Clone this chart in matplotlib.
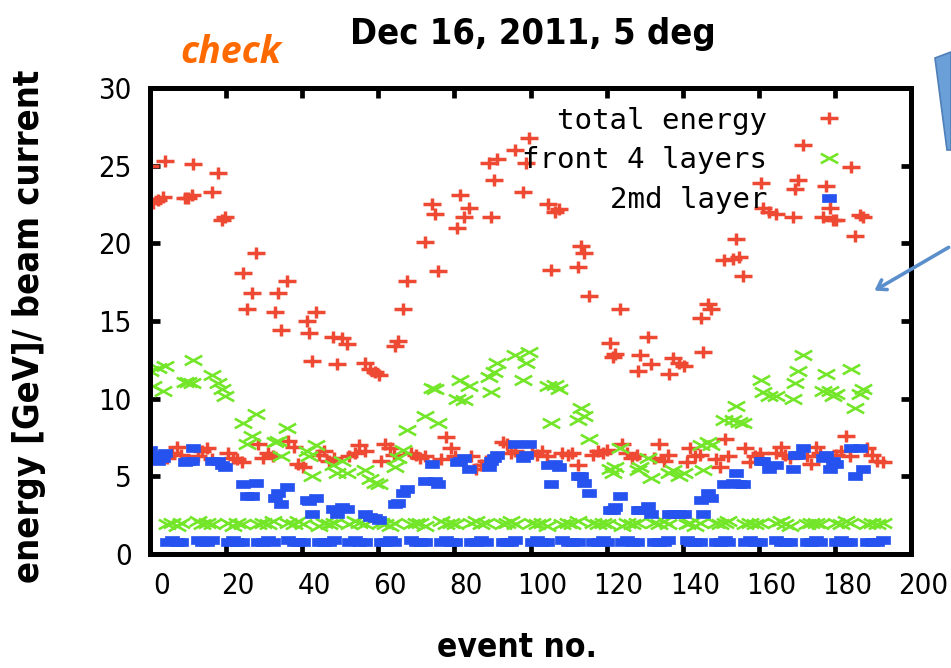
import matplotlib
matplotlib.use("Agg")
import matplotlib.pyplot as plt
from matplotlib.path import Path
from matplotlib.patches import Polygon, FancyArrowPatch
from matplotlib.transforms import ScaledTranslation
from matplotlib import font_manager

# events with beam on the target
ev_on = [0.0, 0.8, 2.1, 3.4, 3.9,
         9.2, 10.0, 11.0, 11.3,
         16.3, 17.9, 19.0, 19.7,
         24.5, 25.5, 26.8, 27.9,
         32.9, 33.7, 34.5, 36.0,
         41.3, 41.8, 42.6, 43.7,
         48.2, 49.2, 50.5, 51.8,
         56.6, 57.9, 59.2, 60.2,
         64.5, 65.3, 66.6, 67.6,
         72.4, 74.2, 75.0, 75.8,
         80.8, 81.6, 82.4, 83.9,
         89.0, 89.5, 90.5, 91.3,
         96.0, 97.9, 98.7, 99.5,
         104.5, 105.3, 106.5, 107.4,
         112.4, 113.2, 114.0, 115.3,
         121.0, 121.6, 122.2, 123.4,
         128.2, 128.9, 130.8, 131.6,
         136.3, 137.4, 139.0, 140.3,
         144.7, 145.3, 146.6, 147.4,
         150.8, 153.2, 154.0, 154.7, 155.8,
         160.5, 161.0, 162.6, 164.5,
         169.0, 169.5, 170.3, 171.6,
         176.8, 177.6, 178.6, 179.4, 180.3,
         184.2, 185.3, 186.5, 187.4]
tot_on = [25.0, 22.6, 22.8, 23.0, 25.3,
          22.9, 22.9, 23.1, 25.1,
          23.3, 24.5, 21.5, 21.7,
          18.1, 15.8, 16.8, 19.4,
          15.6, 16.8, 14.4, 17.6,
          15.0, 14.2, 12.4, 15.6,
          14.0, 12.2, 13.9, 13.5,
          12.3, 11.9, 11.7, 11.5,
          13.4, 13.7, 15.8, 17.6,
          20.1, 22.5, 21.9, 18.2,
          21.0, 23.1, 21.7, 22.3,
          25.2, 21.7, 24.1, 25.4,
          26.0, 23.3, 25.2, 26.8,
          22.5, 18.3, 22.0, 22.2,
          18.5, 19.8, 19.4, 16.6,
          13.6, 12.7, 12.9, 15.8,
          11.8, 12.8, 14.0, 12.2,
          11.6, 12.6, 12.3, 12.1,
          15.2, 13.0, 16.1, 15.8,
          18.9, 19.0, 20.3, 19.1, 17.9,
          23.9, 22.3, 22.0, 21.9,
          21.7, 23.5, 24.1, 26.3,
          21.7, 23.7, 22.3, 21.5, 21.5,
          24.9, 20.5, 21.8, 21.7]
front_on = [11.8, 10.8, 12.0, 10.5, 12.1,
            11.1, 11.1, 11.0, 12.5,
            11.5, 11.0, 10.6, 10.2,
            8.4, 7.1, 7.6, 9.0,
            7.2, 7.3, 6.3, 8.1,
            6.6, 6.3, 5.0, 7.0,
            5.7, 5.2, 6.0, 5.2,
            5.4, 4.8, 4.6, 4.5,
            5.6, 6.2, 6.7, 8.0,
            8.9, 10.7, 10.6, 8.4,
            10.0, 11.2, 9.9, 10.8,
            11.4, 10.4, 11.7, 12.3,
            12.8, 11.2, 12.3, 13.0,
            10.8, 8.4, 10.9, 10.6,
            8.6, 9.4, 8.9, 7.4,
            5.5, 5.2, 5.6, 6.8,
            5.4, 5.6, 6.2, 4.9,
            5.2, 5.4, 5.0, 5.2,
            7.0, 5.4, 7.2, 7.0,
            8.6, 8.6, 9.5, 8.5, 8.4,
            11.2, 10.4, 10.2, 10.2,
            10.0, 11.0, 11.8, 12.8,
            10.5, 11.6, 10.5, 10.2, 10.3,
            11.9, 9.4, 10.3, 10.6]
md_on = [6.7, 6.4, 6.0, 6.2, 6.5,
         5.9, 6.0, 6.0, 6.8,
         6.0, 6.0, 5.7, 5.6,
         4.5, 3.7, 3.7, 4.6,
         3.6, 3.9, 3.2, 4.3,
         3.5, 3.4, 2.6, 3.6,
         2.9, 2.6, 3.0, 2.9,
         2.6, 2.4, 2.3, 2.2,
         3.2, 3.3, 3.9, 4.2,
         4.7, 5.8, 4.7, 4.5,
         5.9, 6.0, 6.2, 5.5,
         5.6, 6.0, 6.2, 6.4,
         7.1, 6.2, 6.4, 7.1,
         5.7, 4.5, 5.8, 5.6,
         5.0, 5.0, 4.6, 3.9,
         2.8, 2.8, 3.0, 3.7,
         2.8, 2.8, 3.1, 2.6,
         2.6, 2.6, 2.6, 2.6,
         3.5, 2.6, 3.9, 3.6,
         4.5, 4.6, 5.2, 4.5, 4.5,
         6.0, 6.0, 5.5, 5.7,
         5.5, 6.4, 6.4, 6.8,
         6.2, 6.4, 5.5, 6.0, 5.8,
         6.8, 5.0, 6.8, 5.5]

# events in between (beam off the target)
ev_off = [4.6, 5.8, 7.0, 8.2,
          12.5, 13.8, 15.0, 16.2,
          20.4, 21.8, 23.0, 24.2,
          28.4, 29.8, 31.0, 32.3,
          36.4, 37.8, 39.0, 40.2,
          44.5, 45.8, 47.0, 48.4,
          52.4, 53.8, 55.0, 56.4,
          60.8, 61.8, 63.0, 64.0,
          68.6, 69.8, 71.0, 72.2,
          76.4, 77.8, 79.0, 80.2,
          84.3, 85.8, 87.0, 88.4,
          92.8, 93.8, 95.0, 96.0,
          100.4, 101.8, 103.0, 104.4,
          108.4, 109.8, 111.0, 112.4,
          116.4, 117.8, 119.0, 120.0,
          124.0, 125.4, 126.6, 128.0,
          132.4, 133.8, 135.0, 136.0,
          141.0, 142.0, 143.2, 144.6,
          148.8, 149.8, 151.0, 152.0,
          156.4, 157.8, 159.0, 160.4,
          164.4, 165.8, 167.0, 168.2,
          172.6, 173.8, 175.0, 176.2,
          180.4, 181.6, 183.0, 184.0,
          188.4, 189.8, 191.0, 192.6]
tot_off = [6.2, 6.5, 6.9, 6.4,
           6.3, 6.6, 6.8, 6.1,
           6.5, 6.2, 6.1, 5.9,
           7.1, 6.2, 6.5, 6.3,
           7.3, 6.9, 5.8, 5.6,
           6.4, 6.6, 6.0, 6.2,
           6.3, 6.5, 7.0, 6.6,
           6.0, 7.1, 6.8, 6.4,
           6.5, 6.4, 6.2, 6.3,
           6.1, 7.5, 6.8, 6.3,
           6.3, 5.5, 5.7, 6.0,
           7.2, 7.1, 6.5, 6.6,
           6.5, 6.4, 6.6, 6.3,
           6.5, 6.4, 6.5, 5.7,
           6.4, 6.6, 6.5, 6.7,
           7.1, 6.5, 6.2, 6.4,
           6.2, 7.1, 6.0, 6.4,
           5.9, 6.8, 6.3, 6.4,
           6.1, 5.6, 7.4, 6.3,
           6.8, 5.9, 6.3, 6.5,
           6.5, 6.9, 6.4, 6.2,
           6.3, 5.8, 6.9, 6.5,
           6.4, 6.6, 7.6, 6.3,
           6.8, 6.4, 6.0, 5.9]
front_off = [1.9, 2.0, 1.8, 2.0,
             2.1, 1.9, 2.0, 1.9,
             2.0, 1.8, 2.0, 1.9,
             1.9, 2.0, 1.9, 2.1,
             2.0, 1.9, 2.1, 1.9,
             1.8, 2.0, 1.9, 2.0,
             1.9, 2.1, 2.0, 1.9,
             2.0, 1.9, 1.8, 2.0,
             1.9, 2.0, 2.0, 1.8,
             2.1, 1.9, 2.0, 1.9,
             2.0, 2.1, 1.9, 2.0,
             1.9, 2.0, 2.1, 1.9,
             2.0, 1.9, 2.0, 1.8,
             1.9, 2.0, 1.9, 2.1,
             2.0, 1.9, 2.0, 1.9,
             1.8, 2.0, 1.9, 2.0,
             2.0, 1.9, 2.1, 1.9,
             1.9, 2.0, 1.8, 2.0,
             2.0, 1.9, 2.0, 2.1,
             1.9, 2.0, 1.9, 2.0,
             2.0, 2.1, 1.9, 1.8,
             1.9, 2.0, 2.0, 1.9,
             2.0, 1.9, 2.1, 2.0,
             1.9, 2.0, 1.9, 2.0]
md_off = [0.8, 0.9, 0.8, 0.8,
          0.9, 0.8, 0.8, 0.9,
          0.8, 0.9, 0.8, 0.8,
          0.8, 0.8, 0.9, 0.8,
          0.9, 0.8, 0.8, 0.8,
          0.8, 0.8, 0.8, 0.9,
          0.8, 0.9, 0.8, 0.8,
          0.8, 0.8, 0.9, 0.8,
          0.9, 0.8, 0.8, 0.8,
          0.8, 0.9, 0.8, 0.8,
          0.8, 0.8, 0.9, 0.8,
          0.8, 0.8, 0.8, 0.9,
          0.8, 0.9, 0.8, 0.8,
          0.9, 0.8, 0.8, 0.8,
          0.8, 0.8, 0.9, 0.8,
          0.8, 0.9, 0.8, 0.8,
          0.8, 0.8, 0.8, 0.9,
          0.9, 0.8, 0.8, 0.8,
          0.8, 0.8, 0.9, 0.8,
          0.8, 0.9, 0.8, 0.8,
          0.9, 0.8, 0.8, 0.8,
          0.8, 0.8, 0.9, 0.8,
          0.8, 0.9, 0.8, 0.8,
          0.8, 0.8, 0.8, 0.9]

labels = ["total energy", "front 4 layers", "2md layer"]
colors = ["#ee4a33", "#74e62a", "#2653f0"]

xticks = list(range(0, 201, 20))
yticks = list(range(0, 31, 5))

# condensed face for tick labels and titles
cond = font_manager.FontProperties(family="DejaVu Sans", stretch="condensed")
cond_bold = font_manager.FontProperties(family="DejaVu Sans", stretch="condensed",
                                        weight="bold")

# gnuplot style point types (stretched a bit sideways)
MV, LN = Path.MOVETO, Path.LINETO
plus = Path([(-1, 0), (1, 0), (0, -0.7), (0, 0.7)], [MV, LN, MV, LN])
cross = Path([(-1, -0.55), (1, 0.55), (-1, 0.55), (1, -0.55)], [MV, LN, MV, LN])
box = Path([(-1, -0.6), (1, -0.6), (1, 0.6), (-1, 0.6), (-1, -0.6)],
           [MV, LN, LN, LN, Path.CLOSEPOLY])

fig = plt.figure(figsize=(9.51, 6.68), dpi=100)
ax = fig.add_axes([0.1577, 0.1707, 0.8003, 0.6976])

h1, = ax.plot(ev_on + ev_off, tot_on + tot_off, ls="none", marker=plus,
              ms=12.5, mew=2.5, color=colors[0], label=labels[0])
h2, = ax.plot(ev_on + ev_off, front_on + front_off, ls="none", marker=cross,
              ms=12.5, mew=1.9, color=colors[1], label=labels[1])
h3, = ax.plot(ev_on + ev_off, md_on + md_off, ls="none", marker=box,
              ms=10.5, mew=0.5, mfc=colors[2], mec=colors[2], label=labels[2])

ax.set_xlim(0, 200)
ax.set_ylim(0, 30)
ax.set_xticks(xticks)
ax.set_yticks(yticks)
ax.tick_params(direction="in", length=7, width=3.4, top=True, right=True)
ax.tick_params(axis="x", pad=13)
ax.tick_params(axis="y", pad=13)
for lab in ax.get_xticklabels() + ax.get_yticklabels():
    lab.set_fontproperties(cond)
    lab.set_fontsize(21)
# x labels sit a little to the right of their ticks
shift = ScaledTranslation(0.12, 0, fig.dpi_scale_trans)
for lab in ax.get_xticklabels():
    lab.set_transform(lab.get_transform() + shift)
for sp in ax.spines.values():
    sp.set_linewidth(3.6)

leg = ax.legend(handles=[h1, h2, h3], loc="upper right",
                bbox_to_anchor=(0.93, 0.985), markerfirst=False, frameon=False,
                numpoints=1, handlelength=1.2, handletextpad=1.5,
                labelspacing=0.4, borderaxespad=0,
                prop={"family": "DejaVu Sans Mono", "size": 21})

fig.text(0.56, 0.949, "Dec 16, 2011, 5 deg", ha="center", va="center",
         fontproperties=cond_bold, fontsize=26)
fig.text(0.243, 0.921, "check", ha="center", va="center", color="#ff6a00",
         family="Open Sans", weight="bold", style="italic", fontsize=27)
fig.text(0.031, 0.512, "energy [GeV]/ beam current", rotation=90,
         ha="center", va="center", fontproperties=cond_bold, fontsize=26)
fig.text(0.544, 0.03, "event no.", ha="center", va="center",
         fontproperties=cond_bold, fontsize=24)

# callout shapes drawn on top of the slide
W, H = 951.0, 668.0
tab = Polygon([(935 / W, 1 - 58 / H), (951 / W, 1 - 52 / H),
               (951 / W, 1 - 150 / H), (947 / W, 1 - 150 / H)],
              closed=True, transform=fig.transFigure, fc="#6a9fd8",
              ec="#4f7fb8", lw=1.2)
fig.patches.append(tab)
arr = FancyArrowPatch((951 / W, 1 - 246 / H), (872 / W, 1 - 292 / H),
                      transform=fig.transFigure,
                      arrowstyle="->,head_length=6,head_width=4",
                      color="#5b8fcc", lw=2.6)
fig.patches.append(arr)

fig.savefig("out.png", dpi=100)
